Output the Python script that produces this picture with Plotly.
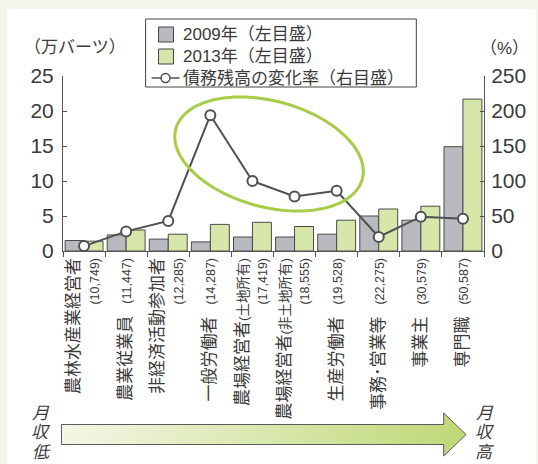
import base64
import math

import plotly.graph_objects as go

# ---- data -------------------------------------------------------------
categories = ["農林水産業経営者", "農業従業員", "非経済活動参加者", "一般労働者",
              "農場経営者(土地所有)", "農場経営者(非土地所有)", "生産労働者",
              "事務･営業等", "事業主", "専門職"]
monthly_income = ["10,749", "11,447", "12,285", "14,287", "17,419", "18,555",
                  "19,528", "22,275", "30,579", "50,587"]
income_on_second_line = [True, False, True, False, True, True,
                         False, False, False, False]
debt_2009 = [1.5, 2.3, 1.7, 1.3, 2.0, 2.0, 2.4, 5.0, 4.4, 14.9]
debt_2013 = [1.4, 3.0, 2.4, 3.8, 4.1, 3.5, 4.4, 6.0, 6.4, 21.7]
debt_change_pct = [7, 28, 43, 194, 100, 78, 86, 20, 49, 46]

series_names = ["2009年（左目盛）", "2013年（左目盛）", "債務残高の変化率（右目盛）"]
left_ticks = [0, 5, 10, 15, 20, 25]
right_ticks = [0, 50, 100, 150, 200, 250]

# ---- page geometry (pixels) ------------------------------------------
W, H = 538, 464
ML, MR, MT, MB = 63, 52, 76, 213
PW, PH = W - ML - MR, H - MT - MB

FONT = "Liberation Sans, Noto Sans CJK JP, sans-serif"
INK = "#3a3a3a"
AXIS = "#555555"
GRAY_BAR = "#b9babf"
GREEN_BAR = "#d6e7a9"
LINE = "#505050"
ACCENT = "#a6cc48"


def px(x):
    return (x - ML) / PW


def py(y):
    return (H - MB - y) / PH


def tick_label(name, income, two_lines):
    # a parenthetical qualifier is set smaller so long names stay compact
    if "(" in name:
        head, tail = name.split("(", 1)
        main = (f"<span style='font-size:17px'>{head}</span>"
                f"<span style='font-size:13.5px'>({tail}</span>")
    else:
        main = f"<span style='font-size:17px'>{name}</span>"
    num = (f"<span style=\"font-family:'Liberation Sans Narrow','Liberation Sans';"
           f"font-size:12.5px\">({income})</span>")
    if two_lines:
        return main + "<br>" + num
    return main + "<span style='font-size:12px'>\u2003</span>" + num


tick_text = [tick_label(c, m, t) for c, m, t in
             zip(categories, monthly_income, income_on_second_line)]

fig = go.Figure()
fig.add_trace(go.Bar(
    x=categories, y=debt_2009, name=series_names[0],
    marker=dict(color=GRAY_BAR, line=dict(color="#4a4a4a", width=1)),
))
fig.add_trace(go.Bar(
    x=categories, y=debt_2013, name=series_names[1],
    marker=dict(color=GREEN_BAR, line=dict(color="#4a4a4a", width=1)),
))
fig.add_trace(go.Scatter(
    x=categories, y=debt_change_pct, yaxis="y2", name=series_names[2],
    mode="lines+markers",
    line=dict(color=LINE, width=2),
    marker=dict(size=10, color="white", line=dict(color=LINE, width=2)),
))

# background panel
shapes = [dict(type="rect", xref="paper", yref="paper",
               x0=px(7), x1=px(W), y0=py(H), y1=py(9),
               fillcolor="white", line=dict(width=0), layer="below")]

# tilted ellipse highlighting the peak
cx, cy, a, b, rot = 270, 154, 97, 53, math.radians(15)
pts = []
for k in range(121):
    t = 2 * math.pi * k / 120
    ex = cx + a * math.cos(t) * math.cos(rot) - b * math.sin(t) * math.sin(rot)
    ey = cy + a * math.cos(t) * math.sin(rot) + b * math.sin(t) * math.cos(rot)
    pts.append(f"{px(ex):.5f},{py(ey):.5f}")
shapes.append(dict(type="path", xref="paper", yref="paper",
                   path="M" + " L".join(pts) + " Z",
                   line=dict(color=ACCENT, width=3), layer="above"))

# legend box
shapes.append(dict(type="rect", xref="paper", yref="paper",
                   x0=px(146), x1=px(418), y0=py(87), y1=py(19),
                   fillcolor="white", line=dict(color="#444444", width=1),
                   layer="above"))
for (y0, y1), col in [((27, 42), GRAY_BAR), ((49, 64), GREEN_BAR)]:
    shapes.append(dict(type="rect", xref="paper", yref="paper",
                       x0=px(159), x1=px(174), y0=py(y1), y1=py(y0),
                       fillcolor=col, line=dict(color="#444444", width=1),
                       layer="above"))
shapes.append(dict(type="line", xref="paper", yref="paper",
                   x0=px(152), x1=px(180), y0=py(78), y1=py(78),
                   line=dict(color=LINE, width=1.5), layer="above"))
shapes.append(dict(type="circle", xref="paper", yref="paper",
                   x0=px(161.5), x1=px(170.5), y0=py(82.5), y1=py(73.5),
                   fillcolor="white", line=dict(color=LINE, width=1.5),
                   layer="above"))

# gradient arrow (income low -> high)
arrow_svg = f"""<svg xmlns='http://www.w3.org/2000/svg' width='{W}' height='{H}' viewBox='0 0 {W} {H}'>
<defs><linearGradient id='g' x1='0' x2='1' y1='0' y2='0'>
<stop offset='0' stop-color='#f3f7e6'/><stop offset='1' stop-color='#bfd876'/>
</linearGradient></defs>
<polygon points='61.5,424.5 445.5,424.5 445.5,413 468,434.5 445.5,456 445.5,444.5 61.5,444.5'
 fill='url(#g)' stroke='#5a5a5a' stroke-width='1'/>
</svg>"""
arrow_uri = "data:image/svg+xml;base64," + base64.b64encode(arrow_svg.encode()).decode()


def note(text, x, y, size, xanchor="left", style="normal"):
    return dict(text=text, x=px(x), y=py(y), xref="paper", yref="paper",
                xanchor=xanchor, yanchor="middle", showarrow=False,
                font=dict(family=FONT, size=size, color=INK, style=style))


annotations = [
    note("（万バーツ）", 22, 47, 17),
    note("（%）", 480, 49, 17),
]
for name, yc in zip(series_names, [34.5, 56.5, 78]):
    annotations.append(note(name, 182, yc, 17))
for ch, yc in zip("月収低", [413, 432, 452]):
    annotations.append(note(ch, 41, yc, 17, "center", "italic"))
for ch, yc in zip("月収高", [413, 432, 452]):
    annotations.append(note(ch, 487, yc, 17, "center", "italic"))

fig.update_layout(
    width=W, height=H,
    margin=dict(l=ML, r=MR, t=MT, b=MB, pad=0),
    paper_bgcolor="#f3f6e8", plot_bgcolor="rgba(0,0,0,0)",
    font=dict(family=FONT, color=INK),
    barmode="group", bargap=0.1, bargroupgap=0,
    showlegend=False,
    xaxis=dict(
        type="category", tickmode="array", tickvals=categories, ticktext=tick_text,
        tickangle=-90, tickson="boundaries", ticks="outside", ticklen=5,
        tickcolor=AXIS, showline=True, linecolor=AXIS, linewidth=1,
        showgrid=False, tickfont=dict(family=FONT, size=15, color=INK),
        range=[-0.5, 9.5],
    ),
    yaxis=dict(
        range=[0, 25], tickvals=left_ticks, ticks="inside", ticklen=4,
        tickcolor=AXIS, showline=True, linecolor=AXIS, linewidth=1,
        showgrid=False, zeroline=False, ticklabelstandoff=4,
        tickfont=dict(family=FONT, size=21, color=INK),
    ),
    yaxis2=dict(
        range=[0, 250], tickvals=right_ticks, overlaying="y", side="right",
        ticks="inside", ticklen=4, tickcolor=AXIS, showline=True,
        linecolor=AXIS, linewidth=1, showgrid=False, zeroline=False,
        ticklabelstandoff=2,
        tickfont=dict(family=FONT, size=21, color=INK),
    ),
    shapes=shapes,
    annotations=annotations,
    images=[dict(source=arrow_uri, xref="paper", yref="paper",
                 x=px(0), y=py(0), sizex=W / PW, sizey=H / PH,
                 xanchor="left", yanchor="top", sizing="stretch",
                 layer="above")],
)

fig.write_html("out.html")
